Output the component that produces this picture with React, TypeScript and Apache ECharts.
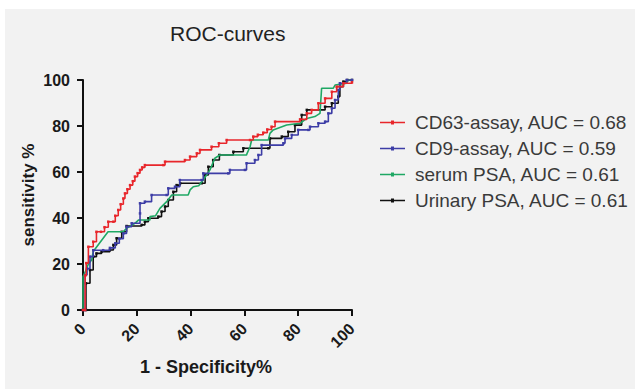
import React, { useEffect, useRef } from "react";
import * as echarts from "echarts";

const FONT = "'Liberation Sans', Arial, sans-serif";

const xTicks = [0, 20, 40, 60, 80, 100];

const seriesNames = [
  "CD63-assay, AUC = 0.68",
  "CD9-assay, AUC = 0.59",
  "serum PSA, AUC = 0.61",
  "Urinary PSA, AUC = 0.61",
];

const seriesColors = ["#e8262b", "#3d3da6", "#1fa864", "#111111"];

const cd63 = [
  [0, 0], [0.8, 0], [0.8, 15], [1.2, 20.4], [2, 27.5], [3.8, 29.7], [5, 34], [6.7, 34], [8, 36],
  [9.4, 38.4], [11.3, 38.4], [12, 41], [13.1, 43.5], [14, 46], [15, 48.5], [15.6, 50.7], [16.5, 52.5],
  [17.5, 54.3], [18.5, 56], [19.3, 58], [20.3, 59.5], [21.2, 60.9], [22, 62], [23, 63], [29.9, 63],
  [30.5, 64.5], [37.9, 65.2], [39.8, 66.7], [42.3, 68.1], [43.5, 69.6], [47.8, 71], [50.5, 72.5],
  [53.4, 73.9], [62.1, 73.9], [63.3, 75.4], [65, 76.2], [67, 77.1], [68.5, 78.5], [70.1, 79.7],
  [71.4, 81.9], [80.7, 82.9], [83.2, 85.5], [85, 87], [87.5, 89.9], [90, 92], [92.5, 94.9],
  [94.3, 97.1], [96.8, 98.6], [100, 99],
];

const cd9 = [
  [0, 0], [0.8, 0], [0.8, 15.2], [1.5, 18], [2.6, 23.2], [3.8, 26], [7.5, 26], [10, 27], [12, 29],
  [13.5, 31], [15, 33.3], [16.2, 36.2], [18.1, 37.7], [21.2, 42], [21.2, 46.4], [23, 47.1], [25.5, 50],
  [31.1, 50], [31.7, 52.9], [34.2, 53.6], [36, 56.5], [44.1, 56.5], [44.7, 59.4], [54, 59.4],
  [54.6, 60.9], [60.2, 60.9], [60.8, 63.8], [63.9, 65.2], [65.2, 67.4], [66.4, 71.7], [74.5, 72.5],
  [75.1, 74.6], [77.6, 76.1], [80, 78.3], [83.8, 78.3], [84.4, 79.7], [87.5, 81.2], [90, 81.9],
  [91.2, 85.5], [92.5, 87.7], [93.7, 91.3], [94.9, 95.7], [95.5, 98.6], [98, 100], [100, 100],
];

const serumPsa = [
  [0, 0], [0, 14.5], [1, 17], [2, 20], [3.2, 21.7], [3.8, 25.4], [9.3, 34], [14.9, 34], [16.2, 35.5],
  [19.3, 37.7], [20.6, 39.1], [24.9, 39.1], [24.9, 40.6], [27, 41], [28.6, 44.2], [31.1, 47.1],
  [33, 50], [39.1, 50], [39.8, 52.2], [41, 53.6], [43, 54], [44.7, 56.5], [47.2, 60.9], [49, 66],
  [50.9, 67.4], [60.8, 67.4], [61, 68.1], [62.1, 71], [62.7, 73.9], [68.9, 73.9], [69.5, 76.8],
  [70.7, 78.3], [75.7, 80.4], [80.7, 81.2], [83.2, 83.3], [86.2, 84.1], [88.1, 85.5], [88.7, 96.4],
  [93, 96.4], [93.7, 97.8], [98, 98.6], [98.5, 100], [100, 100],
];

const urinaryPsa = [
  [0, 0], [1.1, 0], [1.1, 11.6], [2.6, 17.4], [3.8, 23.2], [5, 24.6], [6.9, 25.4], [10, 26.1],
  [11.3, 28.3], [12.5, 31.2], [14.4, 34], [16.2, 36.5], [21.8, 37], [23, 38.4], [24.3, 39.9],
  [28, 40.6], [29.2, 42.8], [30.5, 45], [31.7, 47.8], [33.6, 51.4], [34.8, 54.3], [36.1, 55.1],
  [44.1, 55.1], [45.4, 58.7], [46.6, 62.3], [48.4, 65.2], [50.7, 67.4], [55.9, 68.8], [59.6, 70.3],
  [68.9, 70.3], [69.5, 74.6], [73.9, 75.4], [76.3, 77.5], [78.8, 80.4], [81.3, 84.8], [83.2, 87],
  [90, 88.4], [92.5, 89.9], [94.9, 92.8], [95.5, 97.1], [96.8, 99.3], [98.3, 100], [100, 100],
];

const seriesData = [cd63, cd9, serumPsa, urinaryPsa];
const stepped = [true, true, false, true];

export default function App() {
  const ref = useRef<HTMLDivElement>(null);

  useEffect(() => {
    if (!ref.current) return;
    const chart = echarts.init(ref.current, null, { renderer: "svg" });
    const axisBase = {
      type: "value" as const,
      min: 0,
      max: 100,
      interval: 20,
      axisLine: { show: true, lineStyle: { color: "#111", width: 2 } },
      axisTick: { show: true, length: 6, lineStyle: { color: "#111", width: 2 } },
      splitLine: { show: false },
    };
    chart.setOption({
      animation: false,
      backgroundColor: "#ffffff",
      textStyle: { fontFamily: FONT },
      title: {
        text: "ROC-curves",
        left: 170,
        top: 23,
        padding: 0,
        textStyle: { fontFamily: FONT, fontSize: 21, fontWeight: "normal", color: "#222" },
      },
      graphic: [
        {
          type: "rect",
          z: -10,
          silent: true,
          shape: { x: 5, y: 9, width: 630, height: 380 },
          style: { fill: "#f2f2f2" },
        },
        {
          type: "text",
          x: 206,
          y: 367,
          style: {
            text: "1 - Specificity%",
            fontFamily: FONT,
            fontSize: 18,
            fontWeight: "bold",
            fill: "#1a1a1a",
            textAlign: "center",
            textVerticalAlign: "middle",
          },
        },
      ],
      grid: { left: 83, top: 80, width: 269, height: 230, containLabel: false },
      legend: {
        orient: "vertical",
        left: 375,
        top: 108,
        itemWidth: 25,
        itemHeight: 5,
        itemGap: 7,
        icon: "path://M0,2.3H25V3.7H0Z M11,1H14V5H11Z",
        data: seriesNames,
        textStyle: { fontFamily: FONT, fontSize: 19, color: "#3a3a3a", lineHeight: 19, padding: [0, 0, 0, 5] },
      },
      xAxis: {
        ...axisBase,
        axisLabel: {
          rotate: 45,
          margin: 16,
          fontFamily: FONT,
          fontSize: 16,
          fontWeight: "bold",
          color: "#1a1a1a",
          formatter: (v: number) => (xTicks.includes(v) ? String(v) : ""),
        },
      },
      yAxis: {
        ...axisBase,
        name: "sensitivity %",
        nameLocation: "middle",
        nameGap: 46,
        nameTextStyle: { fontFamily: FONT, fontSize: 17, fontWeight: "bold", color: "#1a1a1a" },
        axisLabel: { margin: 13, fontFamily: FONT, fontSize: 16, fontWeight: "bold", color: "#1a1a1a" },
      },
      series: seriesNames.map((name, i) => ({
        name,
        type: "line",
        data: seriesData[i],
        step: stepped[i] ? "end" : false,
        showSymbol: stepped[i],
        symbol: "rect",
        symbolSize: 2.5,
        lineStyle: { color: seriesColors[i], width: 1.6 },
        itemStyle: { color: seriesColors[i] },
        z: 10 - i,
      })),
    });
    return () => chart.dispose();
  }, []);

  return (
    <div
      ref={ref}
      style={{ position: "fixed", left: 0, top: 0, width: 635, height: 389 }}
    />
  );
}
